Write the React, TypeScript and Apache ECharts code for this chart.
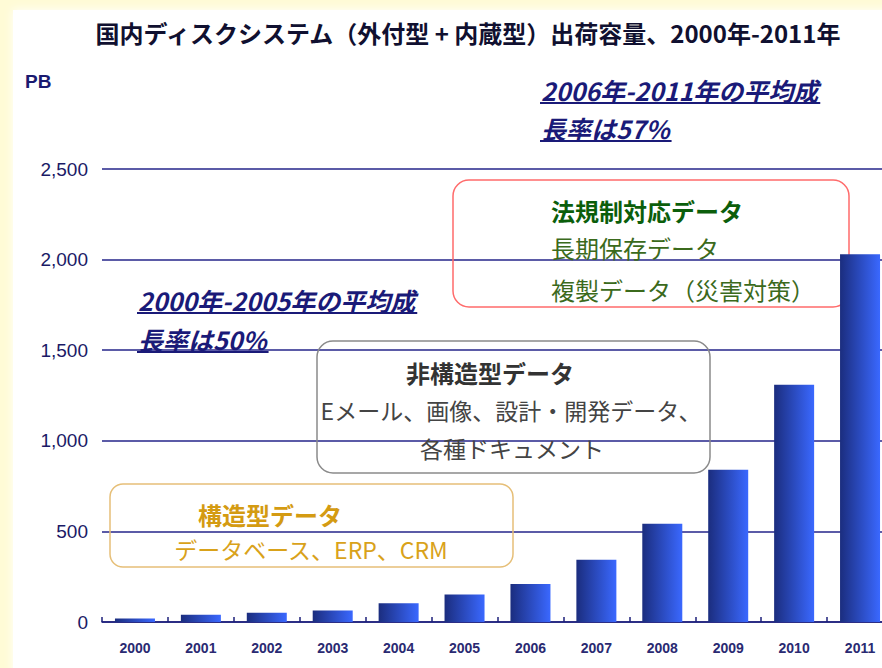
import React, { useEffect, useRef } from "react";
import * as echarts from "echarts";

const years = ["2000", "2001", "2002", "2003", "2004", "2005", "2006", "2007", "2008", "2009", "2010", "2011"];
const capacityPB = [20, 40, 51, 64, 103, 152, 210, 343, 542, 840, 1310, 2030];
const yTicks = [0, 500, 1000, 1500, 2000, 2500];

const titleText = "国内ディスクシステム（外付型 + 内蔵型）出荷容量、2000年-2011年";
const unitText = "PB";
const growthLate = ["2006年-2011年の平均成", "長率は57%"];
const growthEarly = ["2000年-2005年の平均成", "長率は50%"];
const regBox = ["法規制対応データ", "長期保存データ", "複製データ（災害対策）"];
const unstructBox = ["非構造型データ", "Eメール、画像、設計・開発データ、", "各種ドキュメント"];
const structBox = ["構造型データ", "データベース、ERP、CRM"];

const JP = '"Noto Sans CJK JP", "Noto Sans", sans-serif';
const NARROW = '"Liberation Sans Narrow", "Liberation Sans", Arial, sans-serif';

function measure(text: string, font: string): number {
  const c = document.createElement("canvas").getContext("2d");
  if (!c) return text.length * 20;
  c.font = font;
  return c.measureText(text).width;
}

export default function App() {
  const ref = useRef<HTMLDivElement>(null);
  useEffect(() => {
    if (!ref.current) return;
    const chart = echarts.init(ref.current, undefined, { renderer: "svg" });
    const navy = "#1c1f7a";
    const annFont = `italic bold 25px ${JP}`;
    const underline = (lines: string[], x: number, ys: number[]) => {
      const out: any[] = [];
      lines.forEach((t, i) => {
        out.push({
          type: "text",
          x,
          y: ys[i],
          style: {
            text: t,
            font: annFont,
            fill: "#1a1a78",
            textAlign: "left",
            textVerticalAlign: "middle",
          },
          z: 10,
        });
        const w = measure(t, annFont);
        out.push({
          type: "line",
          shape: { x1: x - 1, y1: ys[i] + 13, x2: x + w + 2, y2: ys[i] + 13 },
          style: { stroke: "#1a1a78", lineWidth: 2 },
          z: 10,
        });
      });
      return out;
    };

    const option: any = {
      animation: false,
      backgroundColor: "#fffbd6",
      grid: { left: 102, right: 0, top: 169, bottom: 46, containLabel: false },
      xAxis: {
        type: "category",
        data: years,
        axisLine: { lineStyle: { color: navy, width: 1.5 } },
        axisTick: { show: true, inside: true, length: 5, alignWithLabel: false, lineStyle: { color: navy, width: 1.5 } },
        axisLabel: { color: "#2a2a72", fontWeight: "bold", fontSize: 14, fontFamily: NARROW, margin: 19 },
      },
      yAxis: {
        type: "value",
        min: yTicks[0],
        max: yTicks[yTicks.length - 1],
        interval: 500,
        axisLine: { show: false },
        axisTick: { show: false },
        axisLabel: {
          color: "#1a1a66",
          fontSize: 19,
          fontFamily: NARROW,
          margin: 14,
          formatter: (v: number) => v.toLocaleString("en-US"),
        },
        splitLine: { lineStyle: { color: "#24248a", width: 1.5 } },
      },
      series: [
        {
          type: "bar",
          data: capacityPB,
          barWidth: 40,
          z: 5,
          itemStyle: {
            color: new echarts.graphic.LinearGradient(0, 0, 1, 0, [
              { offset: 0, color: "#1b2d7e" },
              { offset: 1, color: "#3a68ff" },
            ]),
          },
        },
      ],
      graphic: [
        {
          type: "rect",
          shape: { x: 13, y: 10, width: 900, height: 700 },
          style: { fill: "#ffffff", shadowBlur: 10, shadowColor: "rgba(255,255,255,1)" },
          z: -10,
          silent: true,
        },
        {
          type: "text",
          x: 468,
          y: 32,
          style: { text: titleText, font: `bold 24px ${JP}`, fill: "#101030", textAlign: "center", textVerticalAlign: "middle" },
        },
        {
          type: "text",
          x: 25,
          y: 81,
          style: { text: unitText, font: `bold 19px ${NARROW}`, fill: "#1a1a70", textAlign: "left", textVerticalAlign: "middle" },
        },
        ...underline(growthLate, 541, [90, 128]),
        ...underline(growthEarly, 138, [300, 339]),
        {
          type: "rect",
          shape: { x: 453, y: 180, width: 396, height: 127, r: 16 },
          style: { fill: "none", stroke: "#ff6b6b", lineWidth: 1.5 },
          z: 3,
        },
        {
          type: "text", x: 551, y: 210,
          style: { text: regBox[0], font: `bold 24px ${JP}`, fill: "#0b5e0b", textAlign: "left", textVerticalAlign: "middle" },
          z: 10,
        },
        {
          type: "text", x: 551, y: 247,
          style: { text: regBox[1], font: `24px ${JP}`, fill: "#3b6a1c", textAlign: "left", textVerticalAlign: "middle" },
          z: 10,
        },
        {
          type: "text", x: 551, y: 289,
          style: { text: regBox[2], font: `24px ${JP}`, fill: "#3b6a1c", textAlign: "left", textVerticalAlign: "middle" },
          z: 10,
        },
        {
          type: "rect",
          shape: { x: 317, y: 341, width: 393, height: 132, r: 16 },
          style: { fill: "none", stroke: "#8a8a8a", lineWidth: 1.5 },
          z: 3,
        },
        {
          type: "text", x: 490, y: 372,
          style: { text: unstructBox[0], font: `bold 24px ${JP}`, fill: "#333333", textAlign: "center", textVerticalAlign: "middle" },
          z: 10,
        },
        {
          type: "text", x: 511, y: 410,
          style: { text: unstructBox[1], font: `23px ${JP}`, fill: "#444444", textAlign: "center", textVerticalAlign: "middle" },
          z: 10,
        },
        {
          type: "text", x: 512, y: 448,
          style: { text: unstructBox[2], font: `23px ${JP}`, fill: "#444444", textAlign: "center", textVerticalAlign: "middle" },
          z: 10,
        },
        {
          type: "rect",
          shape: { x: 110, y: 484, width: 403, height: 83, r: 13 },
          style: { fill: "none", stroke: "#e6bf78", lineWidth: 1.5 },
          z: 3,
        },
        {
          type: "text", x: 270, y: 514,
          style: { text: structBox[0], font: `bold 24px ${JP}`, fill: "#d49b12", textAlign: "center", textVerticalAlign: "middle" },
          z: 10,
        },
        {
          type: "text", x: 311, y: 549,
          style: { text: structBox[1], font: `23px ${JP}`, fill: "#d9a21a", textAlign: "center", textVerticalAlign: "middle" },
          z: 10,
        },
      ],
    };
    chart.setOption(option);
    return () => chart.dispose();
  }, []);
  return <div ref={ref} style={{ position: "fixed", left: 0, top: 0, width: 893, height: 668 }} />;
}
